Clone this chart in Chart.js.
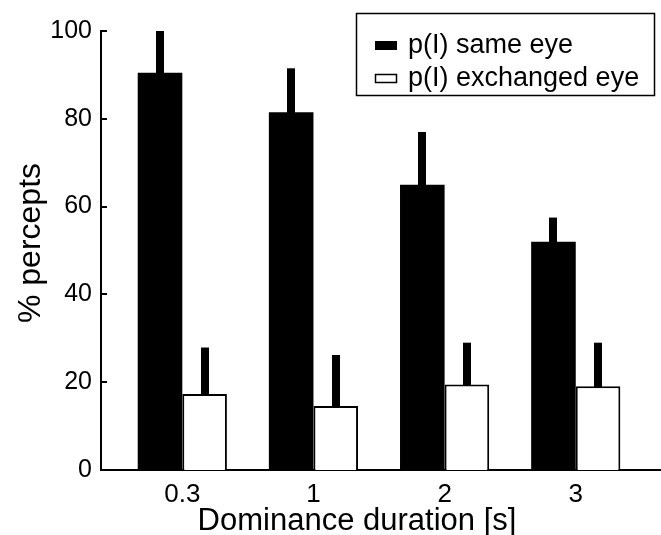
<!DOCTYPE html>
<html>
<head>
<meta charset="utf-8">
<script src="https://cdn.jsdelivr.net/npm/chart.js@4.4.1/dist/chart.umd.min.js"></script>
<style>
  html, body { margin: 0; padding: 0; background: #fff; }
  #wrap { width: 661px; height: 535px; }
</style>
</head>
<body>
<div id="wrap"><canvas id="chart"></canvas></div>
<script>
// values
const durations = ['0.3', '1', '2', '3'];
const sameEye = [90.5, 81.5, 65, 52];
const sameEyeErr = [9.5, 10, 12, 5.5];
const exchangedEye = [17.3, 14.6, 19.5, 19.1];
const exchangedEyeErr = [10.6, 11.6, 9.5, 9.9];
const yTicks = [0, 20, 40, 60, 80, 100];
const xTitle = 'Dominance duration [s]';
const yTitle = '% percepts';

const FONT = '"Liberation Sans", Arial, Helvetica, sans-serif';
const errors = [sameEyeErr, exchangedEyeErr];

// groups sit on integer slots of a linear x axis
const toPoints = vals => vals.map((v, i) => ({ x: i, y: v }));

// upward-only error bars, drawn as thick black stems
const errorBars = {
  id: 'errorBars',
  afterDatasetsDraw(chart) {
    const ctx = chart.ctx;
    const y = chart.scales.y;
    ctx.save();
    ctx.fillStyle = '#000';
    chart.data.datasets.forEach((ds, d) => {
      chart.getDatasetMeta(d).data.forEach((bar, i) => {
        const top = y.getPixelForValue(ds.data[i].y + errors[d][i]);
        ctx.fillRect(Math.round(bar.x - 4), top, 8, bar.y - top + 1);
      });
    });
    ctx.restore();
  }
};

// inward tick marks on the y axis + axis titles
const axisExtras = {
  id: 'axisExtras',
  afterDraw(chart) {
    const ctx = chart.ctx;
    const y = chart.scales.y;
    const left = chart.chartArea.left;
    ctx.save();
    ctx.strokeStyle = '#000';
    ctx.lineWidth = 2;
    yTicks.forEach(v => {
      const py = Math.round(y.getPixelForValue(v));
      ctx.beginPath();
      ctx.moveTo(left, py);
      ctx.lineTo(left + 6, py);
      ctx.stroke();
    });

    ctx.fillStyle = '#000';
    ctx.font = '31px ' + FONT;
    ctx.textAlign = 'center';
    ctx.textBaseline = 'alphabetic';
    ctx.fillText(xTitle, 357, 530);

    ctx.font = '32px ' + FONT;
    ctx.textBaseline = 'middle';
    ctx.translate(31, 243);
    ctx.rotate(-Math.PI / 2);
    ctx.fillText(yTitle, 0, 0);
    ctx.restore();
  }
};

// boxed legend in the upper right corner
const boxLegend = {
  id: 'boxLegend',
  afterDraw(chart) {
    const ctx = chart.ctx;
    ctx.save();
    ctx.fillStyle = '#fff';
    ctx.fillRect(356, 13, 299, 83);
    ctx.strokeStyle = '#000';
    ctx.lineWidth = 1.5;
    ctx.strokeRect(356.5, 13.5, 298, 82);
    ctx.font = '27px ' + FONT;
    ctx.textBaseline = 'middle';
    chart.data.datasets.forEach((ds, d) => {
      const cy = 46 + d * 33;
      ctx.fillStyle = ds.backgroundColor;
      ctx.fillRect(375, cy - 5, 22, 9);
      if (d === 1) {
        ctx.lineWidth = 1.5;
        ctx.strokeRect(375.5, cy - 4.5, 21, 8);
      }
      ctx.fillStyle = '#000';
      ctx.fillText(ds.label, 408, cy);
    });
    ctx.restore();
  }
};

new Chart(document.getElementById('chart'), {
  type: 'bar',
  data: {
    datasets: [
      {
        label: 'p(I) same eye',
        data: toPoints(sameEye),
        backgroundColor: '#000',
        borderWidth: 0
      },
      {
        label: 'p(I) exchanged eye',
        data: toPoints(exchangedEye),
        backgroundColor: '#fff',
        borderColor: '#000',
        borderWidth: 2
      }
    ]
  },
  options: {
    responsive: true,
    maintainAspectRatio: false,
    animation: false,
    layout: { padding: { top: 31, right: 0, left: 0, bottom: 0 } },
    datasets: {
      bar: { categoryPercentage: 0.68, barPercentage: 1 }
    },
    plugins: {
      legend: { display: false },
      tooltip: { enabled: false }
    },
    scales: {
      x: {
        type: 'linear',
        min: -0.62,
        max: 3.65,
        offset: false,
        afterBuildTicks(scale) { scale.ticks = durations.map((_, i) => ({ value: i })); },
        grid: { display: false, drawTicks: false },
        border: { display: true, color: '#000', width: 2 },
        ticks: {
          color: '#000',
          font: { family: FONT, size: 26 },
          padding: 9,
          callback: v => durations[v]
        },
        afterFit(scale) { scale.height = 65; }
      },
      y: {
        min: 0,
        max: 100,
        afterBuildTicks(scale) { scale.ticks = yTicks.map(v => ({ value: v })); },
        grid: { display: false, drawTicks: false },
        border: { display: true, color: '#000', width: 2 },
        ticks: { color: '#000', font: { family: FONT, size: 25 }, padding: 9 },
        afterFit(scale) { scale.width = 101; }
      }
    }
  },
  plugins: [errorBars, axisExtras, boxLegend]
});
</script>
</body>
</html>
